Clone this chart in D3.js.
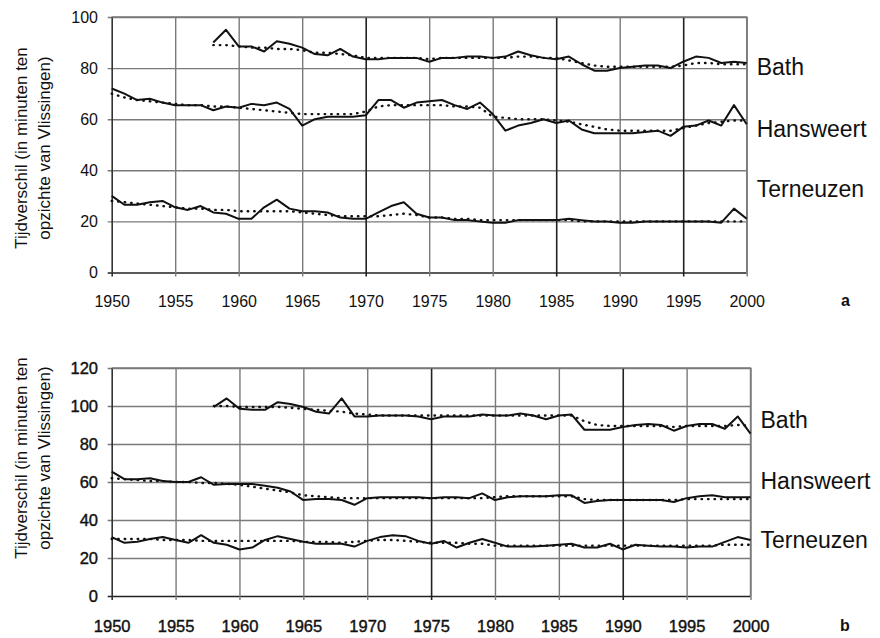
<!DOCTYPE html>
<html>
<head>
<meta charset="utf-8">
<script src="https://cdn.jsdelivr.net/npm/d3@7"></script>
<style>
  body { margin: 0; background: #fff; }
  svg { display: block; font-family: "Liberation Sans", Arial, sans-serif; }
  .tick text { fill: #111; }
</style>
</head>
<body>
<div id="chart"></div>
<script>
// years on the x axis, Bath only has data from 1958 onwards (null before)
const years = d3.range(1950, 2001);
const xTicks = [1950, 1955, 1960, 1965, 1970, 1975, 1980, 1985, 1990, 1995, 2000];
const stations = ["Bath", "Hansweert", "Terneuzen"];
const pad = [null, null, null, null, null, null, null, null];

/*** panel a ***/
const bathA = pad.concat([90, 95, 88.5, 88.5, 86.5, 90.5, 89.5, 88, 85.5, 85,
  87.5, 84.5, 83.5, 83.5, 84, 84, 84, 82.5, 84, 84,
  84.5, 84.5, 84, 84.5, 86.5, 85, 84, 83.5, 84.5, 81.5,
  79, 79, 80, 80.5, 81, 81, 80, 82.5, 84.5, 84,
  82, 82.5, 82]);
const bathATrend = pad.concat([89, 89, 88.5, 88, 88, 87.5, 87.5, 87, 86, 86,
  85.5, 85, 84, 84, 84, 84, 84, 83.5, 84, 84,
  84, 84, 84, 84, 84.5, 84.5, 84, 84, 83, 82,
  81, 80.5, 80.5, 80.5, 80.5, 80.5, 80.5, 81, 82, 82,
  81.5, 81.5, 81.5]);
const hansA = [72, 70, 67.5, 68, 66.5, 65.5, 65.5, 65.5, 63.5, 65,
  64.5, 66, 65.5, 66.5, 64, 57.5, 60, 61, 61, 61,
  61.5, 67.5, 67.5, 64.5, 66.5, 67, 67.5, 65.5, 64, 66.5,
  62, 55.5, 57.5, 58.5, 60, 58.5, 59.5, 56, 54.5, 54.5,
  54.5, 54.5, 55, 55.5, 53.5, 57, 57.5, 59.5, 57.5, 65.5,
  58];
const hansATrend = [70, 68.5, 67.5, 67, 66.5, 66, 65.5, 65.5, 65, 65,
  64.5, 64, 63.5, 63, 62.5, 62, 62, 62, 62, 62,
  63, 65, 65.5, 65.5, 65.5, 65.5, 65.5, 65, 65, 64.5,
  61, 60.5, 60, 60, 60, 59.5, 59, 58, 57, 56,
  55.5, 55.5, 55.5, 55.5, 55.5, 56.5, 57.5, 58.5, 59, 59.5,
  59.5];
const ternA = [30, 26.5, 26.5, 27.5, 28, 25.5, 24.5, 26, 23.5, 23,
  21, 21, 25.5, 28.5, 25, 24, 24, 23.5, 21.5, 21,
  21, 23.5, 26, 27.5, 23, 21.5, 21.5, 20.5, 20.5, 20,
  19.5, 19.5, 20.5, 20.5, 20.5, 20.5, 21, 20.5, 20, 20,
  19.5, 19.5, 20, 20, 20, 20, 20, 20, 19.5, 25,
  21];
const ternATrend = [28, 27.5, 27, 26.5, 26, 25.5, 25, 25, 24.5, 24.5,
  24, 24, 24, 24, 24, 23.5, 23, 22.5, 22, 22,
  22, 22, 22.5, 23, 22.5, 21.5, 21.5, 21, 21, 20.5,
  20.5, 20.5, 20.5, 20.5, 20.5, 20.5, 20.5, 20, 20, 20,
  20, 20, 20, 20, 20, 20, 20, 20, 20, 20,
  20];

/*** panel b ***/
const bathB = pad.concat([99.5, 104, 98.5, 98, 98, 102, 101, 99.5, 97, 96,
  104, 94.5, 94.5, 95, 95, 95, 94.5, 93, 94.5, 94.5,
  94.5, 95.5, 95, 95, 96, 95, 93, 95, 95.5, 87.5,
  87.5, 87.5, 89, 90, 90.5, 90, 87, 89.5, 90.5, 90.5,
  88, 94.5, 85.5]);
const bathBTrend = pad.concat([100, 100, 99.5, 99.5, 99.5, 99.5, 99, 98.5, 98, 97.5,
  97, 96, 95.5, 95, 95, 95, 95, 95, 95, 95,
  95, 95, 95, 95, 95, 95, 95, 95, 95, 92,
  90, 89.5, 89.5, 89.5, 89.5, 89.5, 89, 89.5, 89.5, 89.5,
  89.5, 90, 89.5]);
const hansB = [65.5, 61.5, 61.5, 62, 60.5, 60, 60, 62.5, 58.5, 59,
  59, 59, 58, 57, 55, 50.5, 51, 51, 50.5, 48,
  51.5, 52, 52, 52, 52, 51.5, 52, 52, 51.5, 54,
  50.5, 52, 52.5, 52.5, 52.5, 53, 53, 49, 50, 50.5,
  50.5, 50.5, 50.5, 50.5, 49.5, 51.5, 52.5, 53, 52, 52,
  52];
const hansBTrend = [62, 61.5, 61, 60.5, 60.5, 60, 60, 59.5, 59.5, 59,
  58.5, 57.5, 56.5, 55.5, 54.5, 53, 52.5, 52, 51.5, 51.5,
  51.5, 51.5, 51.5, 51.5, 51.5, 51.5, 51.5, 51.5, 51.5, 51.5,
  52, 52.5, 52.5, 52.5, 52.5, 52.5, 52.5, 51, 50.5, 50.5,
  50.5, 50.5, 50.5, 50.5, 50.5, 51, 51, 51, 51, 51,
  51];
const ternB = [31, 28, 28.5, 30, 31, 29.5, 28, 32, 28, 27,
  24.5, 25.5, 29.5, 31.5, 30, 28.5, 27.5, 27.5, 27.5, 26,
  29, 31, 32, 31.5, 29, 27.5, 29, 25.5, 28, 30,
  28, 26, 26, 26, 26.5, 27, 27.5, 25.5, 25.5, 27.5,
  24.5, 27, 26.5, 26, 26, 25.5, 26, 26, 28.5, 31,
  29.5];
const ternBTrend = [30, 30, 30, 30, 29.5, 29.5, 29.5, 29, 29, 29,
  29, 29, 29, 29, 29, 28.5, 28.5, 28.5, 28, 28.5,
  29, 29.5, 29.5, 29, 28.5, 28, 28, 28, 27.5, 27.5,
  26.5, 26.5, 26.5, 26.5, 26.5, 26.5, 26.5, 26.5, 26.5, 26.5,
  26.5, 26.5, 26.5, 26.5, 26.5, 26.5, 26.5, 26.5, 27, 27,
  27];

const yTitle = ["Tijdverschil (in minuten ten", "opzichte van Vlissingen)"];

// one config per panel: scale ranges, label spots etc.
const panels = [
  {
    tag: "a", yMax: 100, yTicks: [0, 20, 40, 60, 80, 100],
    left: 111.7, right: 746.7, top: 17, bottom: 272.5,
    series: [bathA, hansA, ternA], trends: [bathATrend, hansATrend, ternATrend],
    labelY: [75, 137, 197], darkX: [1970, 1985, 1995],
    tickFont: 16, tickY: 307, tagX: 841, titleY: 148, bold: false
  },
  {
    tag: "b", yMax: 120, yTicks: [0, 20, 40, 60, 80, 100, 120],
    left: 111.7, right: 750.5, top: 368, bottom: 596,
    series: [bathB, hansB, ternB], trends: [bathBTrend, hansBTrend, ternBTrend],
    labelY: [428, 489, 548], darkX: [1975, 1990],
    tickFont: 16.5, tickY: 632, tagX: 840, titleY: 458, bold: true
  }
];

const width = 880, height = 638;

const svg = d3.select("#chart")
  .append("svg")
    .attr("width", width)
    .attr("height", height)
    .attr("viewBox", `0 0 ${width} ${height}`);

panels.forEach(p => {

  /*****************************/
  /*    Declare the scales     */
  /*****************************/
  const xScale = d3.scaleLinear()
    .domain([1950, 2000])
    .range([p.left, p.right]);

  const yScale = d3.scaleLinear()
    .domain([0, p.yMax])
    .range([p.bottom, p.top]);

  const g = svg.append("g");

  // horizontal grid lines
  const leftAxis = d3.axisLeft(yScale)
    .tickValues(p.yTicks)
    .tickSizeInner(-(p.right - p.left))
    .tickSizeOuter(0)
    .tickPadding(14);

  const yAxisG = g.append("g")
    .attr("transform", `translate(${p.left}, 0)`)
    .call(leftAxis);
  yAxisG.select(".domain").remove();
  yAxisG.selectAll(".tick line")
    .attr("x2", p.right - p.left)
    .attr("x1", -4)
    .attr("stroke", d => d === 0 ? "#222" : "#7a7a7a")
    .attr("stroke-width", d => d === 0 ? 1.6 : 1.4);
  yAxisG.selectAll(".tick text")
    .attr("x", 98 - p.left)
    .attr("font-size", p.tickFont)
    .attr("stroke", p.bold ? "#111" : "none")
    .attr("stroke-width", 0.4);

  // vertical grid lines
  const bottomAxis = d3.axisBottom(xScale)
    .tickValues(xTicks)
    .tickFormat(d3.format("d"))
    .tickSizeOuter(0);

  const xAxisG = g.append("g")
    .attr("transform", `translate(0, ${p.bottom})`)
    .call(bottomAxis);
  xAxisG.select(".domain").remove();
  xAxisG.selectAll(".tick line")
    .attr("y1", -(p.bottom - p.top))
    .attr("y2", 4)
    .attr("stroke", d => (d === 1950 ? "#333" : p.darkX.includes(d) ? "#222" : "#7a7a7a"))
    .attr("stroke-width", d => (p.darkX.includes(d) || d === 1950) ? 1.6 : 1.4);
  xAxisG.selectAll(".tick text")
    .attr("y", p.tickY - p.bottom)
    .attr("dy", 0)
    .attr("font-size", p.tickFont)
    .attr("stroke", p.bold ? "#111" : "none")
    .attr("stroke-width", 0.4);

  // outline top / right
  g.append("path")
    .attr("d", `M${p.left},${p.top}H${p.right}V${p.bottom}`)
    .attr("fill", "none")
    .attr("stroke", "#7a7a7a")
    .attr("stroke-width", 1.4);

  /*****************************/
  /*      Draw the lines       */
  /*****************************/
  const line = d3.line()
    .defined(d => d.v !== null)
    .x(d => xScale(d.year))
    .y(d => yScale(d.v));

  p.trends.forEach(arr => {
    g.append("path")
      .datum(years.map((y, i) => ({ year: y, v: arr[i] })))
      .attr("d", line)
      .attr("fill", "none")
      .attr("stroke", "#111")
      .attr("stroke-width", 2.4)
      .attr("stroke-linecap", "round")
      .attr("stroke-dasharray", "0.5,6");
  });

  p.series.forEach(arr => {
    g.append("path")
      .datum(years.map((y, i) => ({ year: y, v: arr[i] })))
      .attr("d", line)
      .attr("fill", "none")
      .attr("stroke", "#111")
      .attr("stroke-width", 2)
      .attr("stroke-linejoin", "round");
  });

  // station names
  g.selectAll(".station")
    .data(stations)
    .join("text")
      .attr("class", "station")
      .attr("x", p.right + 10)
      .attr("y", (d, i) => p.labelY[i])
      .attr("font-size", 23)
      .attr("fill", "#111")
      .text(d => d);

  // panel letter
  g.append("text")
    .attr("x", p.tagX)
    .attr("y", p.tickY - 1)
    .attr("font-size", 16)
    .attr("font-weight", "bold")
    .attr("fill", "#111")
    .text(p.tag);

  // y title, two lines
  g.selectAll(".ytitle")
    .data(yTitle)
    .join("text")
      .attr("class", "ytitle")
      .attr("text-anchor", "middle")
      .attr("font-size", 17)
      .attr("fill", "#111")
      .attr("transform", (d, i) => `translate(${i === 0 ? 27 : 50}, ${p.titleY}) rotate(-90)`)
      .text(d => d);
});
</script>
</body>
</html>
